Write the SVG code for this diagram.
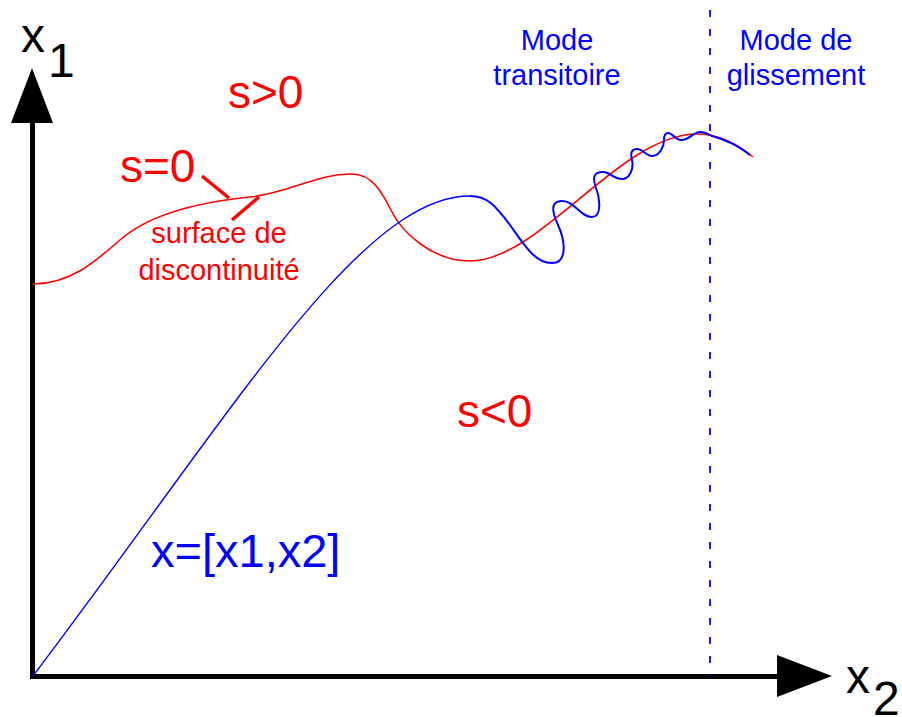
<svg xmlns="http://www.w3.org/2000/svg" width="902" height="717" viewBox="0 0 902 717">
<style>
text{font-family:"Liberation Sans",Arial,sans-serif}
.red{fill:#ff0000}
.blue{fill:#0000ff}
.big{font-size:46px}
.small{font-size:29px}
.axl{font-size:48px;fill:#000}
</style>
<rect width="902" height="717" fill="#fff"/>
<g id="axes">
<line x1="32.5" y1="118" x2="32.5" y2="679" stroke="#000" stroke-width="5"/>
<line x1="30" y1="676.5" x2="780" y2="676.5" stroke="#000" stroke-width="5"/>
<polygon points="32,68 11,123 53,123" fill="#000"/>
<polygon points="777,655 832,676 777,697" fill="#000"/>
<text class="axl" x="21" y="52">x</text>
<text class="axl" x="48" y="77">1</text>
<text class="axl" x="846" y="693">x</text>
<text class="axl" x="873" y="715">2</text>
</g>
<g id="divider">
<line x1="710" y1="10" x2="710" y2="676" stroke="#0000ff" stroke-width="1.8" stroke-dasharray="7 12"/>
</g>
<g id="connectors">
<path id="surface" d="M33,284 C70,284 95,262 120,240 C145,218 190,203 250,197 C290,193 315,174 352,174 C372,174 382,192 392,212 C402,232 432,261 470,261 C540,261 620,134 697,134 C720,134 740,146 753,157" fill="none" stroke="#ff0000" stroke-width="1.6"/>
<path id="trajectory" d="M33,676 C233,412 360,196 470,196" fill="none" stroke="#0000ff" stroke-width="1.4"/>
<path id="wiggle" d="M470,196 C487,196 495,205 510,225 C525,246 535,263 552,263 C568,263 565,240 558,225 C552,212 550,201 562,201 C575,201 580,217 592,217 C602,217 600,198 596,188 C592,177 594,172 603,172 C610,172 613,179 622,179 C630,179 634,168 632,160 C630,152 632,149 637,149 C643,149 646,156 652,156 C660,156 664,146 664,140 C664,135 665,133 668,133 C673,133 675,140 681,140 C690,140 693,132 700,132 C705,132 708,134 712,136 C727,140 740,147 750,155" fill="none" stroke="#0000ff" stroke-width="2"/>
<line x1="202" y1="176" x2="229" y2="198" stroke="#ff0000" stroke-width="3.5"/>
<line x1="259" y1="197" x2="232" y2="220" stroke="#ff0000" stroke-width="3.5"/>
</g>
<g id="labels">
<text class="red big" x="228" y="108">s&gt;0</text>
<text class="red big" x="120" y="182">s=0</text>
<text class="red big" x="457" y="427">s&lt;0</text>
<text class="red small" x="219" y="243" text-anchor="middle">surface de</text>
<text class="red small" x="219" y="280" text-anchor="middle">discontinuité</text>
<text class="blue" x="151" y="567" style="font-size:47px">x=[x1,x2]</text>
<text class="blue small" x="557" y="50" text-anchor="middle">Mode</text>
<text class="blue small" x="557" y="85" text-anchor="middle">transitoire</text>
<text class="blue small" x="796" y="50" text-anchor="middle">Mode de</text>
<text class="blue small" x="796" y="85" text-anchor="middle">glissement</text>
</g>
</svg>
